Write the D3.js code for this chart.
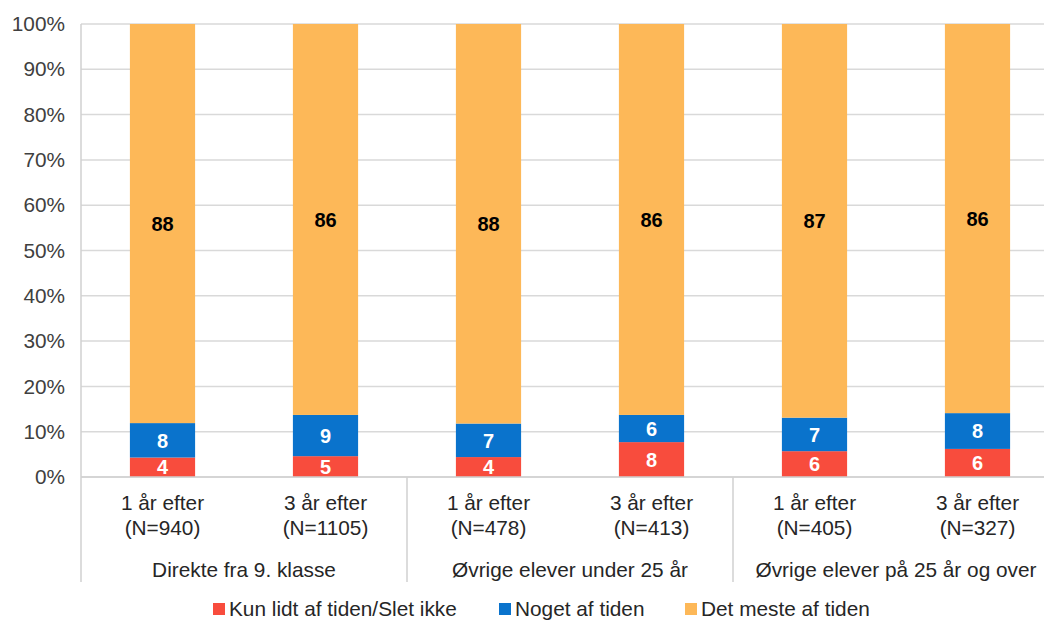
<!DOCTYPE html>
<html>
<head>
<meta charset="utf-8">
<script src="https://cdn.jsdelivr.net/npm/d3@7"></script>
<style>
  body { margin: 0; background: #fff; }
  svg { display: block; font-family: "Liberation Sans", Arial, sans-serif; }
</style>
</head>
<body>
<svg id="chart" width="1044" height="621"></svg>
<script>
// chart data
const periods = ["1 år efter", "3 år efter", "1 år efter", "3 år efter", "1 år efter", "3 år efter"];
const sizes = ["(N=940)", "(N=1105)", "(N=478)", "(N=413)", "(N=405)", "(N=327)"];
const groups = ["Direkte fra 9. klasse", "Øvrige elever under 25 år", "Øvrige elever på 25 år og over"];
const seriesNames = ["Kun lidt af tiden/Slet ikke", "Noget af tiden", "Det meste af tiden"];
const kunLidt = [4.3, 4.6, 4.4, 7.7, 5.7, 6.2];
const noget = [7.6, 9.1, 7.4, 6.0, 7.4, 7.9];
const detMeste = [88.1, 86.3, 88.2, 86.3, 86.9, 85.9];
const yTicks = [0, 10, 20, 30, 40, 50, 60, 70, 80, 90, 100];

const colors = ["#F84C3D", "#0A73CC", "#FDB858"];
const labelColors = ["#fff", "#fff", "#000"];

const svg = d3.select("#chart");
const margin = { top: 24, left: 81 };
const plotH = 453;
const bandW = 163;
const fs = 20.8;

const rows = periods.map((p, i) => ({ i: i, k: kunLidt[i], n: noget[i], d: detMeste[i] }));

let xScale = d3.scaleBand().domain(d3.range(periods.length))
  .range([margin.left, margin.left + bandW * periods.length])
  .paddingInner(0.6).paddingOuter(0.3);
let yScale = d3.scaleLinear().domain([0, 100]).range([margin.top + plotH, margin.top]);

// gridlines
svg.append("g").selectAll("line").data(yTicks).enter().append("line")
  .attr("x1", margin.left).attr("x2", 1044)
  .attr("y1", d => yScale(d)).attr("y2", d => yScale(d))
  .attr("stroke", "#d9d9d9").attr("stroke-width", 1.5);

// y axis
let yAxis = d3.axisLeft(yScale).tickValues(yTicks).tickFormat(d => d + "%").tickSize(0).tickPadding(16);
svg.append("g").attr("transform", `translate(${margin.left},0)`).call(yAxis)
  .call(g => g.select(".domain").remove())
  .selectAll("text").attr("font-size", fs).attr("fill", "#404040")
  .attr("font-family", "Liberation Sans, Arial, sans-serif");

// stacked bars
const stack = d3.stack().keys(["k", "n", "d"]);
const layers = stack(rows);

const layer = svg.append("g").selectAll("g").data(layers).enter().append("g")
  .attr("fill", (d, i) => colors[i]);

layer.selectAll("rect").data(d => d).enter().append("rect")
  .attr("x", d => xScale(d.data.i))
  .attr("width", xScale.bandwidth())
  .attr("y", d => yScale(d[1]))
  .attr("height", d => yScale(d[0]) - yScale(d[1]));

layer.selectAll("text").data((d, li) => d.map(s => ({ s: s, li: li }))).enter().append("text")
  .attr("x", d => xScale(d.s.data.i) + xScale.bandwidth() / 2)
  .attr("y", d => yScale((d.s[0] + d.s[1]) / 2))
  .attr("dy", "0.36em")
  .attr("text-anchor", "middle")
  .attr("font-size", 20).attr("font-weight", "bold")
  .attr("fill", d => labelColors[d.li])
  .text(d => Math.round(d.s[1] - d.s[0]));

// axis lines and group separators
const axisY = yScale(0);
svg.append("line").attr("x1", margin.left).attr("x2", 1044).attr("y1", axisY).attr("y2", axisY)
  .attr("stroke", "#d0d0d0").attr("stroke-width", 1.5);
const sepX = [margin.left, (xScale(1) + xScale(2) + xScale.bandwidth()) / 2, (xScale(3) + xScale(4) + xScale.bandwidth()) / 2];
svg.append("g").selectAll("line").data(sepX).enter().append("line")
  .attr("x1", d => d).attr("x2", d => d)
  .attr("y1", (d, i) => i === 0 ? margin.top : axisY).attr("y2", 582)
  .attr("stroke", "#d0d0d0").attr("stroke-width", 1.5);

// category labels
const cat = svg.append("g").selectAll("text").data(periods).enter().append("text")
  .attr("x", (d, i) => xScale(i) + xScale.bandwidth() / 2)
  .attr("y", 510)
  .attr("text-anchor", "middle").attr("font-size", fs).attr("fill", "#262626");
cat.append("tspan").text(d => d);
cat.append("tspan").attr("x", (d, i) => xScale(i) + xScale.bandwidth() / 2).attr("dy", 25).text((d, i) => sizes[i]);

svg.append("g").selectAll("text").data(groups).enter().append("text")
  .attr("x", (d, i) => (xScale(i * 2) + xScale(i * 2 + 1) + xScale.bandwidth()) / 2)
  .attr("y", 577)
  .attr("text-anchor", "middle").attr("font-size", fs).attr("fill", "#262626")
  .text(d => d);

// legend, kept just inside the bottom edge
const legendX = [213, 499, 685];
const legend = svg.append("g").selectAll("g").data(seriesNames).enter().append("g")
  .attr("transform", (d, i) => `translate(${legendX[i]},603)`);
legend.append("rect").attr("width", 12).attr("height", 12).attr("fill", (d, i) => colors[i]);
legend.append("text").attr("x", 16).attr("y", 13).attr("font-size", fs).attr("fill", "#262626").text(d => d);
</script>
</body>
</html>
